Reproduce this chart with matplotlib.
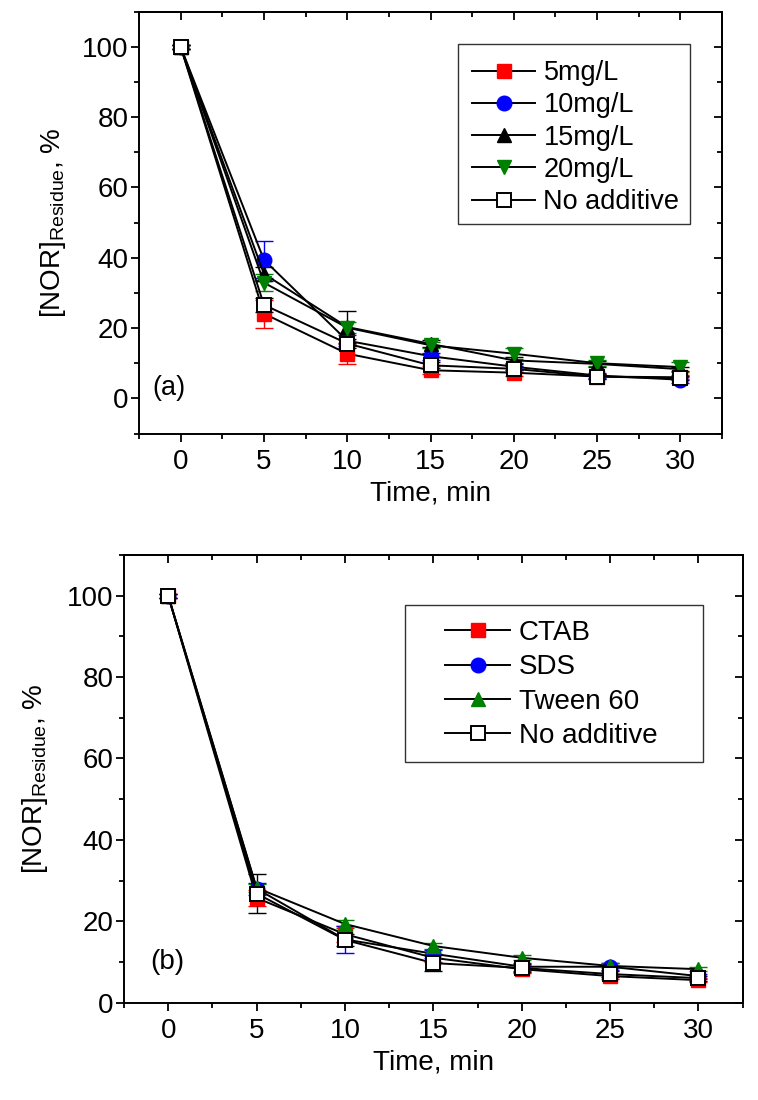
import matplotlib
matplotlib.use("Agg")
import matplotlib.pyplot as plt
from matplotlib.ticker import MultipleLocator
from matplotlib.patches import Rectangle

plt.rcParams['font.family'] = ['Liberation Sans', 'DejaVu Sans']
plt.rcParams['mathtext.default'] = 'regular'

time_min = [0, 5, 10, 15, 20, 25, 30]

# Panel (a): additive dose
labels_a = ["5mg/L", "10mg/L", "15mg/L", "20mg/L", "No additive"]
dose5 = [100, 24.1, 12.7, 8.0, 7.3, 6.2, 6.0]
dose10 = [100, 39.4, 16.4, 12.0, 9.0, 6.5, 5.3]
dose15 = [100, 35.4, 20.3, 15.5, 10.8, 9.8, 8.3]
dose20 = [100, 32.9, 20.1, 15.1, 12.7, 10.0, 8.9]
noadd_a = [100, 26.6, 15.6, 9.4, 8.4, 6.2, 5.7]
err5 = [0.5, 4.0, 2.8, 1.2, 0.8, 0.8, 0.6]
err10 = [0.5, 5.3, 1.5, 1.0, 1.0, 0.8, 0.8]
err15 = [0.5, 2.0, 4.5, 1.0, 1.0, 0.8, 0.6]
err20 = [0.5, 2.5, 1.5, 0.8, 1.5, 0.8, 1.5]
errno_a = [0.5, 2.0, 1.2, 0.8, 0.8, 0.6, 0.6]

# Panel (b): surfactant type
labels_b = ["CTAB", "SDS", "Tween 60", "No additive"]
ctab = [100, 25.7, 16.8, 11.0, 8.2, 6.5, 5.5]
sds = [100, 28.0, 15.5, 12.0, 8.8, 8.8, 6.5]
tween60 = [100, 28.2, 19.3, 13.9, 11.0, 9.0, 8.2]
noadd_b = [100, 26.8, 15.4, 9.7, 8.5, 7.0, 6.0]
err_ctab = [0.5, 2.0, 2.0, 1.0, 1.0, 0.6, 0.5]
err_sds = [0.5, 1.5, 3.2, 1.0, 1.0, 0.8, 0.6]
err_tween = [0.5, 1.0, 1.0, 0.8, 0.6, 0.6, 0.5]
err_no_b = [0.5, 4.7, 1.5, 2.0, 1.0, 0.8, 0.6]

RED, BLUE, GREEN = '#ff0000', '#0000ff', '#008000'

fig = plt.figure(figsize=(7.58, 11.0), dpi=100)
ax_a = fig.add_axes([0.1834, 0.6059, 0.7691, 0.3835])
ax_b = fig.add_axes([0.1636, 0.0886, 0.8162, 0.4068])

def draw(ax, series, fs_tick, fs_leg, ylim, frame_box, leg_anchor, lspace,
         ylabpad, label_pos, label_text):
    for vals, errs, lab, color, marker, ms in series:
        ax.errorbar(time_min, vals, yerr=errs, fmt='none', ecolor=color if color else 'black',
                    elinewidth=1.0, capsize=6.5, capthick=1.0, zorder=2)
    for vals, errs, lab, color, marker, ms in series:
        if color is None:
            ax.plot(time_min, vals, color='k', lw=1.4, marker=marker, ms=ms,
                    mfc='white', mec='black', mew=1.4, label=lab, zorder=3)
        else:
            ax.plot(time_min, vals, color='k', lw=1.4, marker=marker, ms=ms,
                    mfc=color, mec=color, mew=1.0, label=lab, zorder=3)
    ax.set_xlim(-2.5, 32.5)
    ax.set_ylim(*ylim)
    ax.xaxis.set_major_locator(MultipleLocator(5))
    ax.xaxis.set_minor_locator(MultipleLocator(2.5))
    ax.yaxis.set_major_locator(MultipleLocator(20))
    ax.yaxis.set_minor_locator(MultipleLocator(10))
    ax.tick_params(which='both', direction='out', width=1.3, labelsize=fs_tick,
                   top=False, right=False)
    ax.tick_params(which='major', length=6)
    ax.tick_params(which='minor', length=3.5)
    ax.tick_params(axis='x', which='major', pad=5)
    ax.tick_params(axis='y', which='major', pad=1.5)
    for s in ax.spines.values():
        s.set_linewidth(1.4)
    sx = ax.secondary_xaxis('top')
    sy = ax.secondary_yaxis('right')
    for sec, axis in ((sx, sx.xaxis), (sy, sy.yaxis)):
        if sec is sx:
            axis.set_major_locator(MultipleLocator(5))
            axis.set_minor_locator(MultipleLocator(2.5))
        else:
            axis.set_major_locator(MultipleLocator(20))
            axis.set_minor_locator(MultipleLocator(10))
        sec.tick_params(which='both', direction='in', width=1.3,
                        labeltop=False, labelright=False, labelleft=False, labelbottom=False)
        sec.tick_params(which='major', length=6)
        sec.tick_params(which='minor', length=3.5)
        for s in sec.spines.values():
            s.set_linewidth(1.4)
    ax.set_xlabel("Time, min", fontsize=fs_tick, labelpad=4)
    ax.set_ylabel("[NOR]$_{Residue}$, %", fontsize=fs_tick, labelpad=ylabpad)
    x0, y0, x1, y1 = frame_box
    ax.add_patch(Rectangle((x0, y0), x1 - x0, y1 - y0, transform=ax.transAxes,
                           facecolor='white', edgecolor='#333333', lw=1.0, zorder=4))
    leg = ax.legend(loc='upper left', bbox_to_anchor=leg_anchor, borderaxespad=0,
                    fontsize=fs_leg, frameon=False, handlelength=2.35,
                    handletextpad=0.3, labelspacing=lspace, borderpad=0)
    leg.set_zorder(5)
    ax.text(label_pos[0], label_pos[1], label_text, fontsize=fs_leg, va='center', ha='left')

series_a = [
    (dose5, err5, labels_a[0], RED, 's', 10),
    (dose10, err10, labels_a[1], BLUE, 'o', 10.5),
    (dose15, err15, labels_a[2], 'black', '^', 10.5),
    (dose20, err20, labels_a[3], GREEN, 'v', 10.5),
    (noadd_a, errno_a, labels_a[4], None, 's', 9.5),
]
series_b = [
    (ctab, err_ctab, labels_b[0], RED, 's', 10),
    (sds, err_sds, labels_b[1], BLUE, 'o', 10.5),
    (tween60, err_tween, labels_b[2], GREEN, '^', 10.5),
    (noadd_b, err_no_b, labels_b[3], None, 's', 9.5),
]

draw(ax_a, series_a, 20, 19.5, (-10, 110), (0.5472, 0.4967, 0.9451, 0.9234),
     (0.5707, 0.885), 0.23, 10, (-1.7, 3), "(a)")
draw(ax_b, series_b, 20, 20, (0, 110), (0.4542, 0.5374, 0.9358, 0.8883),
     (0.5188, 0.855), 0.30, 12, (-1.0, 10), "(b)")

fig.savefig("out.png", dpi=100)
